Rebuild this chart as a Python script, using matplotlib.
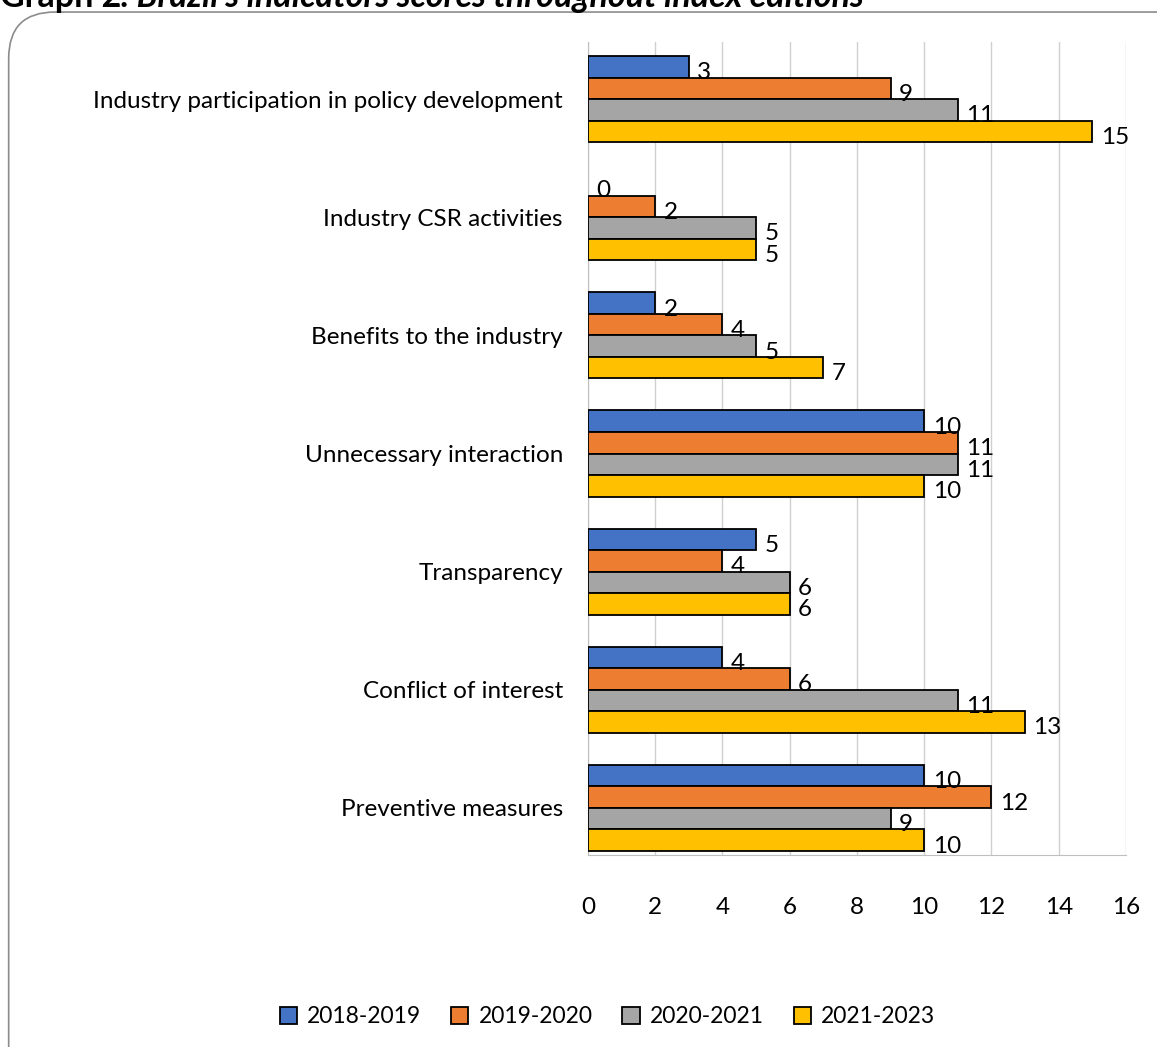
import matplotlib.pyplot as plt
import numpy as np
from matplotlib.patches import FancyBboxPatch

plt.rcParams['font.family'] = ['Lato', 'DejaVu Sans']

categories = ['Industry participation in policy development', 'Industry CSR activities',
              'Benefits to the industry', 'Unnecessary interaction', 'Transparency',
              'Conflict of interest', 'Preventive measures']
editions = ['2018-2019', '2019-2020', '2020-2021', '2021-2023']
scores = {
    '2018-2019': [3, 0, 2, 10, 5, 4, 10],
    '2019-2020': [9, 2, 4, 11, 4, 6, 12],
    '2020-2021': [11, 5, 5, 11, 6, 11, 9],
    '2021-2023': [15, 5, 7, 10, 6, 13, 10],
}
colors = ['#4472C4', '#ED7D31', '#A5A5A5', '#FFC000']
fs = 17.5

fig = plt.figure(figsize=(11.57, 10.47), dpi=100)

# rounded chart frame
frame = FancyBboxPatch((0.0075, -0.05), 1.05, 1.0385, boxstyle='round,pad=0,rounding_size=0.04',
                       transform=fig.transFigure, facecolor='white', edgecolor='#8c8c8c',
                       linewidth=1.2, mutation_aspect=1157 / 1047, zorder=-5)
fig.patches.append(frame)

ax = fig.add_axes([0.5082, 0.1834, 0.4650, 0.7765])
ax.set_facecolor('none')

y = np.arange(len(categories))
h = 0.182
for i, ed in enumerate(editions):
    offs = (i - 1.5) * h
    lw = [1.3 if v > 0 else 0 for v in scores[ed]]
    ax.barh(y + offs, scores[ed], height=h, color=colors[i],
            edgecolor='black', linewidth=lw, zorder=3, label=ed)
    for yy, v in zip(y + offs, scores[ed]):
        ax.text(v + 0.25, yy + 0.05, str(v), va='center', ha='left', fontsize=fs, zorder=4)

ax.set_xlim(0, 16)
ax.set_ylim(6.398, -0.483)
ax.set_xticks(range(0, 17, 2))
ax.set_yticks(y)
ax.set_yticklabels(categories, fontsize=fs)
ax.tick_params(axis='x', labelsize=fs, length=0, pad=30)
ax.tick_params(axis='y', length=0, pad=18)
ax.grid(axis='x', color='#d0d0d0', linewidth=1, zorder=0)
for s in ['top', 'right']:
    ax.spines[s].set_visible(False)
ax.spines['left'].set_color('#bfbfbf')
ax.spines['bottom'].set_color('#bfbfbf')

fig.legend(loc='center', bbox_to_anchor=(0.525, 0.029), ncol=4, frameon=False,
           fontsize=16.5, handlelength=0.75, handleheight=0.75, handletextpad=0.45,
           columnspacing=1.3)

# title, partly cut off by the top edge as in the source
t1 = fig.text(0.0, 0.9933, 'Graph 2', fontsize=24.5, fontweight='bold', va='baseline', ha='left')
fig.canvas.draw()
ax.annotate(". Brazil's indicators scores throughout index editions", xy=(1, 0),
            xycoords=t1, va='bottom', ha='left', fontsize=24.5, fontweight='bold',
            fontstyle='italic', annotation_clip=False)

fig.savefig('out.png', dpi=100)
